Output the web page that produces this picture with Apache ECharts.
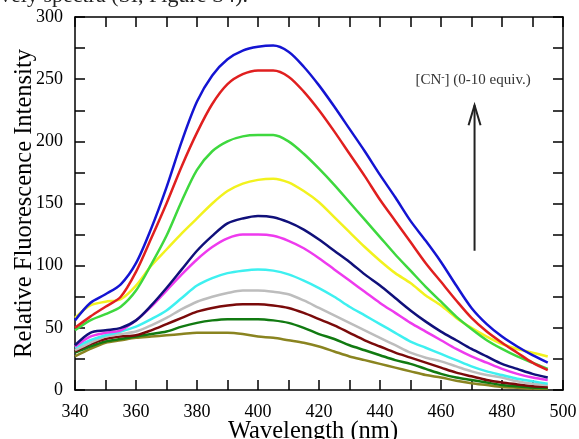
<!DOCTYPE html>
<html>
<head>
<meta charset="utf-8">
<script src="https://cdn.jsdelivr.net/npm/echarts@6/dist/echarts.min.js"></script>
<style>
  html, body { margin: 0; padding: 0; background: #fff; }
  #chart { width: 579px; height: 439px; }
</style>
</head>
<body>
<div id="chart"></div>
<script>
// wavelengths (nm) shared by every spectrum
const wavelengths = [340, 345, 350, 355, 360, 365, 370, 375, 380, 385, 390, 395, 400, 405, 410, 415,
  420, 425, 430, 435, 440, 445, 450, 455, 460, 465, 470, 475, 480, 485, 490, 495]

// spectra, 0 -> 10 equiv. CN-
const olive   = [27, 33, 38, 40, 42, 43, 44, 45, 46, 46, 46, 45, 43, 42, 40, 38, 35, 31, 27, 24, 21, 18, 15, 12, 10, 7.5, 5.5, 4, 2.5, 1.8, 1.2, 1]
const dkgreen = [30, 35, 39, 41, 43, 45, 47, 51, 54, 56, 57, 57, 57, 56, 54, 50, 45, 41, 36, 32, 28, 24, 21, 17, 13, 10, 8, 6, 4, 3, 2, 1.6]
const maroon  = [31, 37, 41, 43, 44, 48, 53, 58, 63, 66, 68, 69, 69, 68, 66, 62, 57, 52, 46, 40, 35, 30, 26, 22, 18, 14, 11, 8, 6, 4.5, 3, 2.5]
const silver  = [32, 38, 43, 45, 47, 52, 58, 65, 71, 75, 78, 80, 80, 79, 77, 72, 66, 60, 54, 48, 42, 36, 30, 26, 23, 19, 15, 12, 10, 7, 5, 4]
const cyan    = [34, 40, 44, 47, 51, 57, 64, 74, 84, 90, 94, 96, 97, 96, 93, 88, 82, 75, 67, 60, 53, 46, 39, 34, 29, 24, 19, 15, 12, 9, 7, 5]
const magenta = [35, 43, 46, 48, 56, 67, 80, 93, 105, 115, 122, 125, 125, 124, 120, 114, 106, 97, 88, 79, 70, 62, 54, 47, 40, 33, 27, 22, 17, 13, 10, 8]
const navy    = [36, 46, 48, 50, 56, 68, 82, 97, 112, 124, 134, 138, 140, 139, 135, 129, 121, 112, 103, 93, 84, 74, 64, 55, 47, 40, 33, 27, 21, 17, 13, 10]
const yellow  = [58, 68, 71, 73, 84, 100, 113, 126, 138, 150, 160, 166, 169, 170, 167, 160, 151, 139, 127, 115, 104, 94, 86, 76, 68, 58, 50, 43, 37, 33, 30, 27]
const green   = [48, 56, 61, 67, 80, 101, 124, 152, 177, 192, 200, 204, 205, 205, 200, 190, 178, 165, 151, 137, 123, 109, 96, 83, 71, 59, 49, 40, 33, 27, 22, 17]
const red     = [50, 59, 67, 75, 95, 122, 150, 180, 207, 230, 246, 254, 257, 257, 252, 240, 225, 208, 190, 172, 153, 136, 119, 102, 87, 72, 58, 47, 38, 30, 22, 16]
const blue    = [56, 70, 77, 85, 102, 130, 163, 200, 232, 253, 266, 273, 276, 277, 272, 260, 245, 228, 210, 192, 173, 155, 136, 120, 103, 84, 66, 53, 43, 35, 28, 22]

const spectra = [olive, dkgreen, maroon, silver, cyan, magenta, navy, yellow, green, red, blue]
const colors = ['#8a8420', '#117a11', '#7a0a0a', '#bdbdbd', '#3ef0f0', '#ee3aee', '#10107a', '#f2f21e', '#3ed83e', '#e01f1f', '#1414d2']

const font = 'Liberation Serif'

const tickStyle = { show: true, inside: true, length: 10, lineStyle: { color: '#000', width: 1.5 } }
const minorStyle = { show: true, splitNumber: 2, length: 10, lineStyle: { color: '#000', width: 1.5 } }
const lineStyle = { show: true, onZero: false, lineStyle: { color: '#000', width: 1.5 } }

const chart = echarts.init(document.getElementById('chart'))

chart.setOption({
  animation: false,
  grid: { left: 75, right: 16, top: 17, bottom: 49, containLabel: false, outerBoundsMode: 'none' },
  xAxis: [
    {
      type: 'value', min: 340, max: 500, interval: 20,
      axisLine: lineStyle, axisTick: tickStyle, minorTick: minorStyle,
      splitLine: { show: false },
      axisLabel: { color: '#000', fontFamily: font, fontSize: 18, margin: 13 },
      name: 'Wavelength (nm)', nameLocation: 'middle', nameGap: 29, nameMoveOverlap: false,
      nameTextStyle: { color: '#000', fontFamily: font, fontSize: 24.5, padding: [0, 12, 0, 0] }
    },
    {
      type: 'value', position: 'top', min: 340, max: 500, interval: 20,
      axisLine: lineStyle, axisTick: tickStyle, minorTick: minorStyle,
      splitLine: { show: false }, axisLabel: { show: false }
    }
  ],
  yAxis: [
    {
      type: 'value', min: 0, max: 300, interval: 50,
      axisLine: lineStyle, axisTick: tickStyle, minorTick: minorStyle,
      splitLine: { show: false },
      axisLabel: { color: '#000', fontFamily: font, fontSize: 18, margin: 12 },
      name: 'Relative Fluorescence Intensity', nameLocation: 'middle', nameGap: 38, nameMoveOverlap: false,
      nameTextStyle: { color: '#000', fontFamily: font, fontSize: 24.5 }
    },
    {
      type: 'value', position: 'right', min: 0, max: 300, interval: 50,
      axisLine: lineStyle, axisTick: tickStyle, minorTick: minorStyle,
      splitLine: { show: false }, axisLabel: { show: false }
    }
  ],
  series: spectra.map((vals, i) => ({
    type: 'line',
    smooth: 0.3,
    symbol: 'none',
    xAxisIndex: 0,
    yAxisIndex: 0,
    data: wavelengths.map((w, j) => [w, vals[j]]),
    lineStyle: { color: colors[i], width: 2.5 }
  }))
})

// arrow and label, placed in data coordinates
const tip = chart.convertToPixel({ xAxisIndex: 0, yAxisIndex: 0 }, [471, 229])
const tail = chart.convertToPixel({ xAxisIndex: 0, yAxisIndex: 0 }, [471, 112])
const lab = chart.convertToPixel({ xAxisIndex: 0, yAxisIndex: 0 }, [470.5, 249])

chart.setOption({
  graphic: [
    {
      type: 'text', left: 0, top: -15,
      style: { text: 'vely spectra (SI, Figure S4).', font: '22px "Liberation Serif"', fill: '#222' }
    },
    {
      type: 'text', x: lab[0], y: lab[1],
      style: {
        text: '{a|[CN}{s|-}{a|] (0-10 equiv.)}',
        align: 'center', verticalAlign: 'middle',
        rich: {
          a: { font: '15px "Liberation Serif"', fill: '#333' },
          s: { font: '10px "Liberation Serif"', fill: '#333', verticalAlign: 'top', padding: [0, 0, 7, 0] }
        }
      }
    },
    {
      type: 'line',
      shape: { x1: tail[0], y1: tail[1], x2: tip[0], y2: tip[1] },
      style: { stroke: '#222', lineWidth: 2 }
    },
    {
      type: 'polyline',
      shape: { points: [[tip[0] - 6, tip[1] + 20], [tip[0], tip[1]], [tip[0] + 6, tip[1] + 20]] },
      style: { stroke: '#222', lineWidth: 2, fill: null }
    }
  ]
})
</script>
</body>
</html>
